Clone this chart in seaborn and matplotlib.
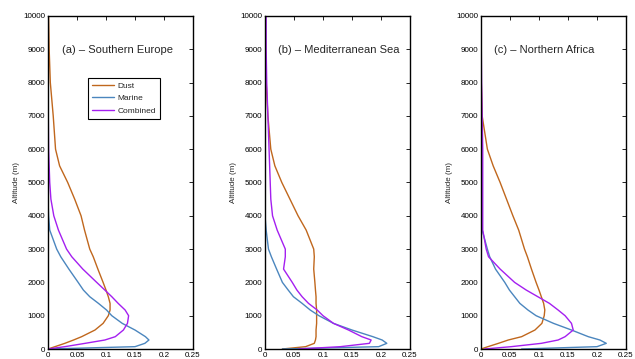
import numpy as np
import pandas as pd
import matplotlib
matplotlib.use('Agg')
import matplotlib.pyplot as plt
import seaborn as sns

# Altitude grid (m) shared by all profiles
altitude = [0, 70, 170, 270, 370, 570, 770, 1000, 1170, 1370, 1570, 1770, 2000,
            2400, 2770, 3000, 3570, 4000, 4500, 5000, 5500, 6000, 7000, 8000, 9000, 10000]

# (a) Southern Europe
dust_a = [0, 0.012, 0.029, 0.044, 0.058, 0.081, 0.095, 0.104, 0.107, 0.107, 0.104, 0.100, 0.095,
          0.086, 0.078, 0.072, 0.063, 0.057, 0.046, 0.034, 0.020, 0.013, 0.009, 0.004, 0.002, 0.001]
marine_a = [0, 0.150, 0.167, 0.174, 0.168, 0.150, 0.128, 0.110, 0.101, 0.087, 0.072, 0.061, 0.052,
            0.036, 0.022, 0.015, 0.003, 0.001, 0, 0, 0, 0, 0, 0, 0, 0]
combined_a = [0, 0.029, 0.064, 0.098, 0.116, 0.130, 0.137, 0.139, 0.133, 0.121, 0.110, 0.098, 0.084,
              0.060, 0.041, 0.032, 0.018, 0.010, 0.005, 0.003, 0.002, 0.001, 0.0005, 0, 0, 0]

# (b) Mediterranean Sea
dust_b = [0.030, 0.070, 0.085, 0.087, 0.088, 0.088, 0.089, 0.089, 0.089, 0.088, 0.088, 0.087, 0.086,
          0.084, 0.085, 0.084, 0.071, 0.057, 0.043, 0.029, 0.017, 0.010, 0.005, 0.002, 0.001, 0]
marine_b = [0.030, 0.196, 0.210, 0.202, 0.186, 0.150, 0.118, 0.093, 0.078, 0.064, 0.049, 0.040, 0.030,
            0.020, 0.011, 0.006, 0.002, 0, 0, 0, 0, 0, 0, 0, 0, 0]
combined_b = [0.058, 0.130, 0.180, 0.183, 0.167, 0.144, 0.118, 0.100, 0.090, 0.075, 0.064, 0.055, 0.047,
              0.032, 0.035, 0.035, 0.021, 0.013, 0.010, 0.009, 0.008, 0.007, 0.005, 0.003, 0.002, 0.002]

# (c) Northern Africa
dust_c = [0, 0.012, 0.030, 0.047, 0.070, 0.093, 0.105, 0.109, 0.110, 0.108, 0.104, 0.100, 0.095,
          0.087, 0.080, 0.075, 0.065, 0.055, 0.044, 0.033, 0.021, 0.011, 0.002, 0.0005, 0, 0]
marine_c = [0.070, 0.200, 0.216, 0.205, 0.185, 0.156, 0.125, 0.095, 0.081, 0.067, 0.058, 0.049, 0.041,
            0.025, 0.015, 0.011, 0.002, 0, 0, 0, 0, 0, 0, 0, 0, 0]
combined_c = [0.006, 0.052, 0.104, 0.133, 0.145, 0.159, 0.156, 0.145, 0.133, 0.118, 0.098, 0.078, 0.058,
              0.033, 0.013, 0.009, 0.003, 0.003, 0.003, 0.003, 0.003, 0.003, 0.002, 0.001, 0.0005, 0]

panel_titles = ['(a) \u2013 Southern Europe', '(b) \u2013 Mediterranean Sea', '(c) \u2013 Northern Africa']
aerosols = ['Dust', 'Marine', 'Combined']
colors = {'Dust': '#C0671D', 'Marine': '#4B86BE', 'Combined': '#A41FF0'}

profiles = [
    {'Dust': dust_a, 'Marine': marine_a, 'Combined': combined_a},
    {'Dust': dust_b, 'Marine': marine_b, 'Combined': combined_b},
    {'Dust': dust_c, 'Marine': marine_c, 'Combined': combined_c},
]

sns.set_style('white')
plt.rcParams['font.family'] = ['Liberation Sans', 'DejaVu Sans']

fig = plt.figure(figsize=(6.35, 3.59), dpi=100)
lefts = [48, 265, 481]
title_x = [0.476, 0.51, 0.438]

for i, prof in enumerate(profiles):
    ax = fig.add_axes([lefts[i] / 635, 10 / 359, 145 / 635, 333 / 359])
    rows = []
    for name in aerosols:
        for alt, v in zip(altitude, prof[name]):
            rows.append({'Altitude': alt, 'value': v, 'aerosol': name})
    df = pd.DataFrame(rows)
    sns.lineplot(data=df, x='value', y='Altitude', hue='aerosol', hue_order=aerosols,
                 palette=colors, orient='y', estimator=None, errorbar=None,
                 linewidth=1.0, ax=ax, legend=(i == 0))

    ax.set_xlim(0, 0.25)
    ax.set_ylim(0, 10000)
    ax.set_xticks([0, 0.05, 0.1, 0.15, 0.2, 0.25])
    ax.set_xticklabels(['0', '0.05', '0.1', '0.15', '0.2', '0.25'])
    ax.set_yticks(range(0, 10001, 1000))
    ax.tick_params(direction='in', length=3, width=0.6, labelsize=5.8, pad=2,
                   top=True, right=True, colors='black')
    for s in ax.spines.values():
        s.set_color('black')
        s.set_linewidth(1.0)
    ax.set_xlabel('')
    ax.set_ylabel('Altitude (m)', fontsize=5.8, labelpad=2)
    ax.text(title_x[i], 0.898, panel_titles[i], transform=ax.transAxes,
            ha='center', va='center', fontsize=8)

    if i == 0:
        leg = ax.legend(loc='upper left', bbox_to_anchor=(0.276, 0.814), fontsize=6,
                        frameon=True, fancybox=False, edgecolor='black', framealpha=1,
                        borderaxespad=0, handlelength=2.6, borderpad=0.5,
                        labelspacing=0.55, handletextpad=0.4)
        leg.get_frame().set_linewidth(0.8)

fig.savefig('out.png', dpi=100)
